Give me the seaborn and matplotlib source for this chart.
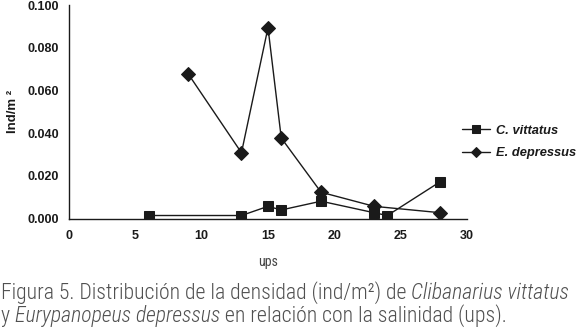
import matplotlib
matplotlib.use('Agg')
import matplotlib.pyplot as plt
import seaborn as sns
import pandas as pd
from matplotlib import font_manager

# salinity (ups) vs density (ind/m2)
cv_ups = [6, 13, 15, 16, 19, 23, 24, 28]
cv_dens = [0.0014, 0.0014, 0.0057, 0.0040, 0.0081, 0.0027, 0.0014, 0.0173]
ed_ups = [9, 13, 15, 16, 19, 23, 28]
ed_dens = [0.0676, 0.0308, 0.0894, 0.0377, 0.0123, 0.0057, 0.0027]
x_ticks = [0, 5, 10, 15, 20, 25, 30]
y_ticks = [0.0, 0.02, 0.04, 0.06, 0.08, 0.10]

sns.set_style('white')
installed = {f.name for f in font_manager.fontManager.ttflist}
narrow = 'DejaVu Sans'
for cand in ['Roboto Condensed', 'Liberation Sans Narrow', 'Arial Narrow', 'PT Sans Narrow',
             'Archivo Narrow', 'Fira Sans Condensed', 'IBM Plex Sans Condensed']:
    if cand in installed:
        narrow = cand
        break
plt.rcParams['font.family'] = ['Liberation Sans', 'DejaVu Sans']

fig = plt.figure(figsize=(5.8, 3.32), dpi=100)
ax = fig.add_axes([69 / 580, 1 - 218.5 / 332, 398 / 580, 213.5 / 332])

cv = pd.DataFrame({'ups': cv_ups, 'dens': cv_dens})
ed = pd.DataFrame({'ups': ed_ups, 'dens': ed_dens})
sns.lineplot(data=cv, x='ups', y='dens', ax=ax, color='#1a1a1a', lw=1,
             marker='s', markersize=7.5, markeredgecolor='#1a1a1a', label='C. vittatus')
sns.lineplot(data=ed, x='ups', y='dens', ax=ax, color='#1a1a1a', lw=1,
             marker='D', markersize=7, markeredgecolor='#1a1a1a', label='E. depressus')

ax.set_xlim(0, 30)
ax.set_ylim(0, 0.1)
ax.set_xticks(x_ticks)
ax.set_yticks(y_ticks)
ax.set_yticklabels([f'{v:.3f}' for v in y_ticks])
ax.tick_params(axis='both', direction='out', length=4, width=1, labelsize=9,
               colors='#1a1a1a', pad=3)
ax.tick_params(axis='x', length=3, pad=5)
for lbl in ax.get_xticklabels() + ax.get_yticklabels():
    lbl.set_fontweight('bold')
for s in ['top', 'right']:
    ax.spines[s].set_visible(False)
for s in ['left', 'bottom']:
    ax.spines[s].set_color('#1a1a1a')
    ax.spines[s].set_linewidth(1)
ax.set_ylabel('Ind/m \u00b2', fontsize=9.5, fontweight='bold', color='#1a1a1a', labelpad=6)
ax.set_xlabel('')
fig.text(0.5 * (69 + 467) / 580, 1 - 262 / 332, 'ups', ha='center', va='center',
         family=narrow, fontsize=10, color='#444444')

leg = ax.legend(loc='center left', bbox_to_anchor=(462 / 580, 1 - 142 / 332),
                bbox_transform=fig.transFigure, frameon=False, borderpad=0,
                borderaxespad=0, handlelength=2.2, handletextpad=0.4,
                labelspacing=0.8, markerscale=0.75,
                prop={'size': 9.3, 'weight': 'bold', 'style': 'italic'})
for t in leg.get_texts():
    t.set_color('#1a1a1a')

# caption with mixed italic pieces, laid out left to right
cap = dict(family=narrow, fontsize=15.7, color='#505050', va='baseline', fontweight='light')
lines = [
    (299, [('Figura 5. Distribución de la densidad (ind/m\u00b2) de ', 'normal'),
           ('Clibanarius vittatus', 'italic')]),
    (322, [('y ', 'normal'), ('Eurypanopeus depressus', 'italic'),
           (' en relación con la salinidad (ups).', 'normal')]),
]
fig.canvas.draw()
r = fig.canvas.get_renderer()
for ybase, parts in lines:
    x = 1 / 580
    for txt, style in parts:
        t = fig.text(x, 1 - ybase / 332, txt, style=style, **cap)
        x += t.get_window_extent(renderer=r).width / 580

fig.savefig('out.png', dpi=100)
